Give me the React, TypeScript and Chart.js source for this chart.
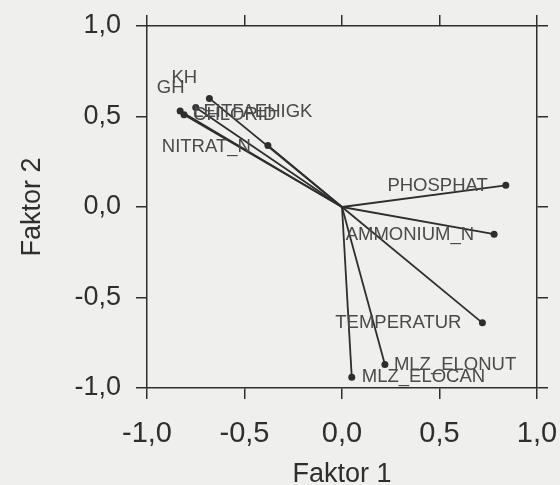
import React, { useEffect, useRef } from "react";
import { Chart, registerables } from "chart.js";

Chart.register(...registerables);

const variables = ["GH", "KH", "LEITFAEHIGK", "CHLORID", "NITRAT_N", "PHOSPHAT", "AMMONIUM_N", "TEMPERATUR", "MLZ_ELONUT", "MLZ_ELOCAN"];
const factor1 = [-0.75, -0.68, -0.83, -0.81, -0.38, 0.84, 0.78, 0.72, 0.22, 0.05];
const factor2 = [0.55, 0.6, 0.53, 0.51, 0.34, 0.12, -0.15, -0.64, -0.87, -0.94];
const axisMin = -1;
const axisMax = 1;
const axisStep = 0.5;

// label placement (style): pixel offsets from the point, and text alignment
const labelDx = [-39, -38, 13, 9, -17, -18, -20, -21, 9, 10];
const labelDy = [-14, -15, 6, 5, 7, 6, 6, 5, 6, 5];
const labelAlign: CanvasTextAlign[] = ["left", "left", "left", "left", "right", "right", "right", "right", "left", "left"];

const FONT = "'Liberation Sans', Arial, sans-serif";
const INK = "#2e2e2e";

const fmt = (v: number | string) => Number(v).toFixed(1).replace(".", ",");

const labelPlugin = {
  id: "loadingLabels",
  afterDatasetsDraw(chart: any) {
    const ctx = chart.ctx;
    ctx.save();
    ctx.font = `18.5px ${FONT}`;
    ctx.fillStyle = "#4a4a4a";
    ctx.textBaseline = "alphabetic";
    variables.forEach((name, i) => {
      const meta = chart.getDatasetMeta(i);
      const pt = meta.data[1];
      if (!pt) return;
      ctx.textAlign = labelAlign[i];
      ctx.fillText(name, pt.x + labelDx[i], pt.y + labelDy[i]);
    });
    ctx.restore();
  },
};

const noPad = (s: any) => {
  s.paddingLeft = 0;
  s.paddingRight = 0;
  s.paddingTop = 0;
  s.paddingBottom = 0;
};

export default function App() {
  const ref = useRef<HTMLCanvasElement | null>(null);
  useEffect(() => {
    if (!ref.current) return;
    const datasets = variables.map((name, i) => ({
      label: name,
      data: [
        { x: 0, y: 0 },
        { x: factor1[i], y: factor2[i] },
      ],
      showLine: true,
      borderColor: INK,
      backgroundColor: INK,
      borderWidth: 1.8,
      pointRadius: [0, 3.5],
      pointBorderWidth: 0,
    }));
    const gridCommon = {
      drawOnChartArea: false,
      drawTicks: true,
      tickLength: 11,
      color: INK,
      lineWidth: 1.5,
    };
    const border = { display: true, color: INK, width: 1.5 };
    const chart = new Chart(ref.current, {
      type: "scatter",
      data: { datasets },
      plugins: [labelPlugin],
      options: {
        animation: false,
        responsive: false,
        devicePixelRatio: 1,
        layout: { padding: 0 },
        plugins: { legend: { display: false }, tooltip: { enabled: false } },
        scales: {
          x: {
            type: "linear",
            position: "bottom",
            min: axisMin,
            max: axisMax,
            ticks: { stepSize: axisStep, callback: fmt, color: INK, font: { size: 29, family: FONT }, padding: 18 },
            grid: gridCommon,
            border,
            title: { display: true, text: "Faktor 1", color: INK, font: { size: 27, family: FONT }, padding: { top: 0, bottom: 9 } },
            afterFit: (s: any) => { s.height = 112; noPad(s); },
          },
          x2: {
            type: "linear",
            position: "top",
            min: axisMin,
            max: axisMax,
            ticks: { stepSize: axisStep, display: false },
            grid: gridCommon,
            border,
            afterFit: (s: any) => { s.height = 26; noPad(s); },
          },
          y: {
            type: "linear",
            position: "left",
            min: axisMin,
            max: axisMax,
            ticks: { stepSize: axisStep, callback: fmt, color: INK, font: { size: 27, family: FONT }, padding: 15 },
            grid: gridCommon,
            border,
            title: { display: true, text: "Faktor 2", color: INK, font: { size: 27, family: FONT }, padding: { top: 16, bottom: 0 } },
            afterFit: (s: any) => { s.width = 147; noPad(s); },
          },
          y2: {
            type: "linear",
            position: "right",
            min: axisMin,
            max: axisMax,
            ticks: { stepSize: axisStep, display: false },
            grid: gridCommon,
            border,
            afterFit: (s: any) => { s.width = 23; noPad(s); },
          },
        },
      } as any,
    });
    return () => chart.destroy();
  }, []);
  return (
    <div style={{ position: "fixed", left: 0, top: 0, width: 560, height: 500, background: "#efefed" }}>
      <canvas ref={ref} width={560} height={500} style={{ display: "block" }} />
    </div>
  );
}
